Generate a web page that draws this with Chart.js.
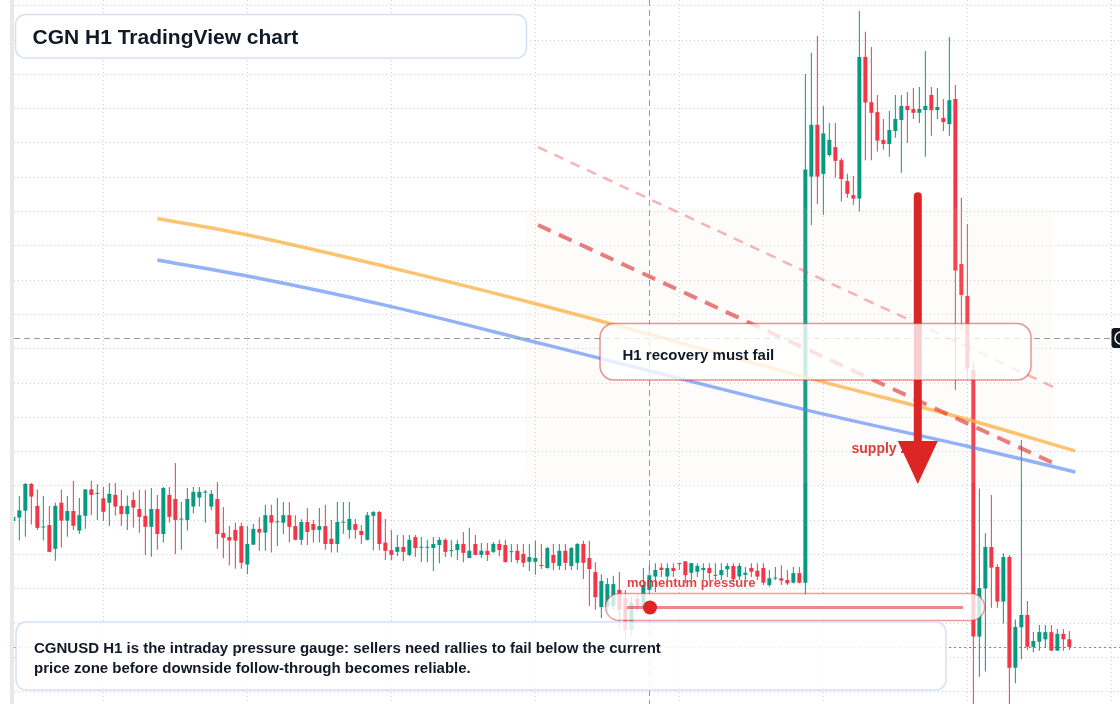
<!DOCTYPE html>
<html>
<head>
<meta charset="utf-8">
<title>CGN H1 TradingView chart</title>
<style>
  html, body { margin: 0; padding: 0; background: #fff; }
  #wrap { position: relative; width: 1120px; height: 704px; overflow: hidden; }
  canvas { display: block; }
</style>
<script src="https://cdn.jsdelivr.net/npm/chart.js@4.4.1/dist/chart.umd.min.js"></script>
</head>
<body>
<div id="wrap"><canvas id="chart" width="1120" height="704"></canvas></div>
<script>
// H1 candles, one entry per hour
const opens = [
  5.98, 6.08, 6.28, 7.06, 6.42, 5.79, 5.86, 5.17, 6.51, 5.99,
  6.27, 5.70, 6.13, 6.90, 6.77, 6.64, 6.51, 6.74, 6.42, 6.18,
  6.59, 6.33, 6.13, 5.81, 6.33, 5.60, 6.74, 6.62, 6.02, 6.01,
  6.40, 6.66, 6.81, 6.40, 6.62, 5.63, 5.51, 5.72, 5.83, 4.71,
  5.29, 5.75, 5.64, 6.15, 5.94, 5.93, 6.15, 5.83, 5.43, 5.95,
  5.89, 5.72, 5.83, 5.46, 5.31, 5.93, 5.72, 5.89, 5.69, 5.43,
  6.13, 6.24, 5.35, 5.13, 5.08, 5.22, 4.99, 5.51, 5.20, 5.20,
  5.19, 5.28, 5.43, 5.10, 5.13, 5.31, 4.90, 5.31, 4.99, 5.11,
  5.08, 5.31, 5.28, 5.07, 5.11, 5.02, 4.79, 4.79, 4.68, 4.61,
  4.99, 4.67, 5.11, 4.67, 4.76, 5.31, 4.90, 4.49, 3.47, 3.47,
  3.50, 3.97, 3.74, 2.80, 3.71, 3.47, 3.97, 4.36, 4.62, 4.36,
  4.61, 4.75, 4.80, 4.47, 4.50, 4.55, 4.61, 4.38, 4.40, 4.57,
  4.67, 4.36, 4.41, 4.61, 4.53, 4.61, 4.11, 4.30, 4.31, 4.26,
  4.18, 4.46, 4.18, 16.02, 17.53, 16.10, 16.65, 16.88, 16.50, 15.89,
  15.48, 15.38, 19.51, 18.19, 17.90, 17.09, 16.97, 17.35, 17.67, 18.08,
  17.99, 17.88, 17.96, 18.40, 17.96, 17.73, 17.55, 18.28, 13.47, 12.54,
  10.38, 2.61, 4.01, 5.22, 4.64, 3.63, 4.93, 1.70, 2.88, 3.24,
  2.31, 2.46, 2.53, 2.74, 2.20, 2.69, 2.53
];
const highs = [
  6.18, 6.71, 7.09, 7.09, 6.90, 6.71, 6.42, 6.51, 6.90, 6.71,
  7.15, 6.65, 6.91, 7.15, 7.05, 6.98, 7.09, 7.09, 6.88, 6.72,
  6.83, 6.88, 6.88, 6.94, 6.74, 6.97, 6.97, 7.67, 6.53, 6.94,
  6.97, 6.97, 6.88, 6.88, 7.12, 6.39, 5.83, 5.93, 5.93, 5.83,
  5.89, 6.09, 6.45, 6.45, 6.65, 6.53, 6.53, 6.15, 6.03, 6.36,
  6.01, 6.36, 6.45, 6.01, 6.53, 6.53, 6.53, 6.04, 5.86, 6.24,
  6.27, 6.27, 6.04, 5.72, 5.57, 5.57, 5.57, 5.57, 5.51, 5.43,
  5.51, 5.51, 5.48, 5.43, 5.43, 5.66, 5.78, 5.57, 5.34, 5.34,
  5.37, 5.43, 5.43, 5.31, 5.31, 5.31, 5.31, 5.40, 5.31, 5.22,
  5.31, 5.31, 5.31, 5.22, 5.34, 5.40, 5.40, 4.78, 4.43, 4.32,
  4.38, 4.49, 3.97, 3.76, 3.85, 4.61, 4.69, 4.75, 4.75, 4.75,
  4.75, 4.76, 4.81, 4.76, 4.75, 4.75, 4.75, 4.75, 4.75, 4.75,
  4.75, 4.75, 4.64, 4.75, 4.75, 4.75, 4.55, 4.64, 4.69, 4.55,
  4.64, 4.64, 19.01, 19.63, 20.12, 18.08, 17.58, 17.58, 16.56, 16.10,
  16.04, 20.85, 20.24, 19.80, 18.40, 17.70, 17.93, 18.40, 18.40, 18.49,
  18.60, 18.63, 19.68, 18.63, 18.60, 18.28, 20.09, 18.69, 15.40, 14.64,
  10.62, 6.93, 5.62, 6.74, 4.72, 5.04, 4.99, 3.11, 8.34, 3.65,
  2.74, 2.95, 2.95, 2.95, 2.83, 2.83, 2.77
];
const lows = [
  5.86, 5.41, 5.52, 5.88, 5.72, 5.41, 5.07, 4.82, 5.20, 5.52,
  5.72, 5.60, 5.75, 6.15, 6.01, 5.99, 5.83, 6.13, 5.83, 5.72,
  5.78, 5.64, 4.99, 4.94, 5.14, 5.35, 5.93, 5.02, 5.14, 5.70,
  6.20, 6.40, 5.93, 6.30, 5.17, 4.89, 4.68, 4.59, 4.59, 4.43,
  5.28, 5.11, 5.11, 5.06, 5.25, 5.60, 5.35, 5.42, 5.28, 5.28,
  5.35, 5.35, 5.14, 5.06, 5.06, 5.61, 5.46, 5.46, 5.31, 5.41,
  5.13, 5.13, 4.84, 4.84, 4.96, 4.81, 4.96, 4.93, 4.78, 4.78,
  4.52, 4.75, 4.93, 4.93, 4.84, 4.78, 4.89, 4.98, 4.90, 4.81,
  5.05, 4.96, 4.77, 4.78, 4.75, 4.63, 4.52, 4.41, 4.58, 4.59,
  4.55, 4.55, 4.55, 4.55, 4.55, 4.29, 3.50, 3.39, 3.15, 3.33,
  3.41, 2.86, 2.51, 2.63, 3.33, 3.33, 3.82, 3.91, 4.35, 4.26,
  4.35, 4.55, 4.17, 4.26, 4.35, 4.26, 4.26, 4.26, 4.26, 4.35,
  4.20, 4.26, 4.26, 4.35, 4.26, 4.11, 4.06, 4.26, 4.11, 4.11,
  4.16, 4.16, 3.82, 14.61, 15.22, 14.90, 16.60, 15.99, 15.29, 15.40,
  15.20, 15.00, 16.50, 16.50, 16.75, 16.80, 16.60, 17.15, 16.13, 17.00,
  17.70, 17.58, 16.60, 17.21, 17.70, 17.35, 17.21, 9.80, 11.55, 10.09,
  0.18, 1.44, 1.59, 3.45, 3.45, 2.99, 0.41, 1.25, 1.95, 2.22,
  2.15, 2.20, 2.29, 2.19, 2.19, 2.20, 2.22
];
const closes = [
  6.10, 6.29, 7.06, 6.69, 5.78, 5.80, 5.08, 6.42, 5.99, 6.27,
  5.84, 6.15, 6.90, 6.74, 6.79, 6.25, 6.77, 6.40, 6.18, 6.42,
  6.37, 6.10, 5.81, 6.33, 5.60, 6.94, 6.10, 6.01, 6.03, 6.62,
  6.83, 6.83, 6.82, 6.77, 5.60, 5.49, 5.41, 5.41, 4.76, 5.31,
  5.75, 5.64, 6.15, 5.93, 5.95, 6.15, 5.81, 5.43, 5.95, 5.66,
  5.72, 5.83, 5.31, 5.31, 5.95, 5.94, 6.04, 5.72, 5.57, 6.15,
  6.24, 5.31, 5.11, 4.99, 5.22, 5.08, 5.43, 5.19, 5.21, 5.21,
  5.31, 5.43, 5.08, 5.11, 5.31, 5.05, 5.11, 4.99, 5.11, 4.99,
  5.31, 5.13, 4.78, 5.08, 4.84, 4.76, 4.93, 4.90, 4.67, 5.19,
  4.76, 5.11, 4.76, 5.19, 5.31, 4.76, 4.58, 3.76, 4.23, 4.14,
  4.14, 3.39, 2.80, 3.59, 3.47, 4.11, 4.40, 4.55, 4.55, 4.61,
  4.52, 4.72, 4.40, 4.75, 4.67, 4.61, 4.46, 4.40, 4.55, 4.67,
  4.28, 4.67, 4.47, 4.50, 4.36, 4.18, 4.31, 4.31, 4.24, 4.16,
  4.46, 4.18, 16.23, 17.53, 16.02, 17.28, 17.09, 16.48, 15.95, 15.52,
  15.38, 19.51, 18.18, 17.88, 17.07, 16.97, 17.38, 17.70, 18.08, 17.96,
  17.88, 17.99, 18.08, 17.96, 18.05, 17.61, 18.25, 13.28, 12.57, 10.43,
  2.61, 4.02, 5.22, 4.62, 3.63, 4.93, 1.70, 2.89, 3.24, 2.31,
  2.48, 2.74, 2.74, 2.20, 2.69, 2.53, 2.31
];

// moving averages, sampled at a few hours
const emaHours = [24, 39, 63, 88, 134, 159, 177];
const emaFast = [14.80, 14.32, 13.36, 12.27, 10.08, 8.94, 8.02];
const emaSlow = [13.59, 13.12, 12.23, 11.15, 9.14, 8.16, 7.41];

// descending trend lines (start hour/price, end hour/price)
const upperTrendHours = [87.44, 173.28];
const upperTrend = [16.88, 9.89];
const lowerTrendHours = [87.44, 173.28];
const lowerTrend = [14.61, 7.67];

// day separators and price grid
const dayStarts = [15, 39, 63, 87, 111, 135, 159, 183];
const priceLevels = [1, 2, 3, 4, 5, 6, 7, 8, 9, 10, 11, 12, 13, 14, 15, 16, 17, 18, 19, 20, 21];

// annotations in hour / price units
const zone = { from: 85.28, to: 173.28, top: 15.11, bottom: 7.09 };
const arrow = { hour: 150.74, from: 15.45, to: 7.06 };
const crosshair = { hour: 106, price: 11.31 };

const up = '#089981';
const down = '#f23645';
const font = '"Liberation Sans", Arial, Helvetica, sans-serif';

const hours = opens.map((o, k) => k);
const candleColors = hours.map(k => closes[k] >= opens[k] ? up : down);
const wickData = hours.map(k => ({ x: k, y: [lows[k], highs[k]] }));
const bodyData = hours.map(k => ({ x: k, y: [opens[k], closes[k]] }));
const toPoints = (xs, ys) => xs.map((x, j) => ({ x: x, y: ys[j] }));

function roundBox(ctx, x, y, w, h, r, fill, stroke, lw) {
  ctx.beginPath();
  ctx.roundRect(x, y, w, h, r);
  if (fill) { ctx.fillStyle = fill; ctx.fill(); }
  if (stroke) { ctx.strokeStyle = stroke; ctx.lineWidth = lw || 1; ctx.stroke(); }
}

const overlays = {
  id: 'overlays',
  beforeDraw(chart) {
    const ctx = chart.ctx;
    ctx.save();
    ctx.fillStyle = '#ffffff';
    ctx.fillRect(0, 0, chart.width, chart.height);
    ctx.fillStyle = '#e8e8e8';
    ctx.fillRect(10, 0, 4, chart.height);
    ctx.restore();
  },
  afterDatasetDraw(chart, args) {
    if (args.index !== 1) return; // right after the candle bodies
    const ctx = chart.ctx;
    const x = chart.scales.x, y = chart.scales.y;
    const x0 = x.getPixelForValue(zone.from), x1 = x.getPixelForValue(zone.to);
    const y0 = y.getPixelForValue(zone.top), y1 = y.getPixelForValue(zone.bottom);
    ctx.save();
    roundBox(ctx, x0, y0, x1 - x0, y1 - y0, 14, 'rgba(240,222,200,0.09)');
    ctx.restore();
  },
  afterDraw(chart) {
    const ctx = chart.ctx;
    const area = chart.chartArea;
    const x = chart.scales.x, y = chart.scales.y;
    ctx.save();

    // last price
    const lastY = Math.round(y.getPixelForValue(closes[closes.length - 1])) + 0.5;
    ctx.setLineDash([2, 3]);
    ctx.strokeStyle = 'rgba(242,54,69,0.85)';
    ctx.lineWidth = 1;
    ctx.beginPath(); ctx.moveTo(area.left, lastY); ctx.lineTo(area.right, lastY); ctx.stroke();

    // crosshair
    const cx = Math.round(x.getPixelForValue(crosshair.hour)) + 0.5;
    const cy = Math.round(y.getPixelForValue(crosshair.price)) + 0.5;
    ctx.setLineDash([6, 4]);
    ctx.strokeStyle = '#9a9a9a';
    ctx.beginPath(); ctx.moveTo(cx, 0); ctx.lineTo(cx, area.bottom); ctx.stroke();
    ctx.beginPath(); ctx.moveTo(area.left, cy); ctx.lineTo(1110, cy); ctx.stroke();
    ctx.setLineDash([]);

    // supply zone label
    ctx.font = 'bold 14px ' + font;
    ctx.fillStyle = 'rgba(220,38,38,0.9)';
    ctx.fillText('supply zone', 851.5, 452.5);

    // arrow
    const ax = x.getPixelForValue(arrow.hour);
    const aTop = y.getPixelForValue(arrow.from);
    const aTip = y.getPixelForValue(arrow.to);
    const headTop = aTip - 43;
    ctx.strokeStyle = '#dc2626';
    ctx.fillStyle = '#dc2626';
    ctx.lineWidth = 8;
    ctx.lineCap = 'round';
    ctx.beginPath(); ctx.moveTo(ax, aTop); ctx.lineTo(ax, headTop + 4); ctx.stroke();
    ctx.lineCap = 'butt';
    ctx.beginPath();
    ctx.moveTo(ax - 20, headTop); ctx.lineTo(ax + 20, headTop); ctx.lineTo(ax, aTip);
    ctx.closePath(); ctx.fill();

    // recovery callout
    roundBox(ctx, 600, 323.5, 431, 56.5, 14, 'rgba(255,255,255,0.78)', 'rgba(220,38,38,0.5)', 1.5);
    ctx.fillStyle = '#111827';
    ctx.font = 'bold 15px ' + font;
    ctx.fillText('H1 recovery must fail', 622.5, 359.5);

    // momentum gauge
    ctx.font = 'bold 13px ' + font;
    ctx.fillStyle = 'rgba(220,38,38,0.85)';
    ctx.fillText('momentum pressure', 627, 587);
    roundBox(ctx, 605.5, 593.5, 379, 27, 13.5, 'rgba(255,255,255,0.78)', 'rgba(220,38,38,0.45)', 1.5);
    ctx.strokeStyle = 'rgba(220,38,38,0.55)';
    ctx.lineWidth = 3;
    ctx.beginPath(); ctx.moveTo(627, 607.5); ctx.lineTo(963, 607.5); ctx.stroke();
    ctx.fillStyle = '#dc2626';
    ctx.beginPath(); ctx.arc(650, 607.5, 7, 0, Math.PI * 2); ctx.fill();

    // note box
    roundBox(ctx, 16, 622, 930, 68, 10, 'rgba(255,255,255,0.86)', '#d3e1f6', 1.5);
    ctx.fillStyle = '#111827';
    ctx.font = 'bold 15px ' + font;
    ctx.fillText('CGNUSD H1 is the intraday pressure gauge: sellers need rallies to fail below the current', 34, 652.7);
    ctx.fillText('price zone before downside follow-through becomes reliable.', 34, 672.7);

    // title box
    roundBox(ctx, 15.5, 14.5, 511, 43.5, 10, 'rgba(255,255,255,0.96)', '#d3e1f6', 1.5);
    ctx.fillStyle = '#111827';
    ctx.font = 'bold 21px ' + font;
    ctx.fillText('CGN H1 TradingView chart', 32.5, 43.5);

    // crosshair price tag at the right edge
    roundBox(ctx, 1111.5, 328, 24, 20, 3, '#131722');
    ctx.strokeStyle = '#ffffff';
    ctx.lineWidth = 1.5;
    ctx.beginPath(); ctx.arc(1121, 338, 6, 0, Math.PI * 2); ctx.stroke();

    ctx.restore();
  }
};

function createChart(canvasElement) {
  new Chart(canvasElement, {
    type: 'bar',
    data: {
      datasets: [{
        label: 'wick',
        data: wickData,
        backgroundColor: candleColors,
        barThickness: 1,
        inflateAmount: 0,
        borderWidth: 0,
        grouped: false,
        order: 11
      }, {
        label: 'body',
        data: bodyData,
        backgroundColor: candleColors,
        barThickness: 4,
        minBarLength: 1,
        inflateAmount: 0,
        borderWidth: 0,
        grouped: false,
        order: 10
      }, {
        type: 'line',
        label: 'EMA fast',
        data: toPoints(emaHours, emaFast),
        borderColor: 'rgba(251,176,64,0.75)',
        borderWidth: 3.5,
        pointRadius: 0,
        cubicInterpolationMode: 'monotone',
        order: 4
      }, {
        type: 'line',
        label: 'EMA slow',
        data: toPoints(emaHours, emaSlow),
        borderColor: 'rgba(80,130,245,0.62)',
        borderWidth: 3.5,
        pointRadius: 0,
        cubicInterpolationMode: 'monotone',
        order: 3
      }, {
        type: 'line',
        label: 'upper trend',
        data: toPoints(upperTrendHours, upperTrend),
        borderColor: 'rgba(239,68,68,0.4)',
        borderWidth: 2.5,
        borderDash: [10, 8],
        pointRadius: 0,
        order: 2
      }, {
        type: 'line',
        label: 'lower trend',
        data: toPoints(lowerTrendHours, lowerTrend),
        borderColor: 'rgba(220,38,38,0.6)',
        borderWidth: 4,
        borderDash: [14, 9],
        pointRadius: 0,
        order: 1
      }]
    },
    options: {
      responsive: false,
      animation: false,
      devicePixelRatio: 1,
      events: [],
      layout: { padding: { left: 14, right: 0, top: 0, bottom: 0 } },
      plugins: {
        legend: { display: false },
        tooltip: { enabled: false }
      },
      scales: {
        x: {
          type: 'linear',
          min: 0.111,
          max: 184.44,
          offset: false,
          afterBuildTicks: scale => { scale.ticks = dayStarts.map(v => ({ value: v })); },
          ticks: { display: false },
          grid: { color: '#d0d0d0', lineWidth: 1, drawTicks: false, offset: false },
          border: { display: false, dash: [1, 3] }
        },
        y: {
          type: 'linear',
          min: 0.644,
          max: 21.169,
          afterBuildTicks: scale => { scale.ticks = priceLevels.map(v => ({ value: v })); },
          ticks: { display: false },
          grid: { color: '#d0d0d0', lineWidth: 1, drawTicks: false },
          border: { display: false, dash: [1, 3] }
        }
      }
    },
    plugins: [overlays]
  });
}

createChart(document.getElementById('chart'));
</script>
</body>
</html>
